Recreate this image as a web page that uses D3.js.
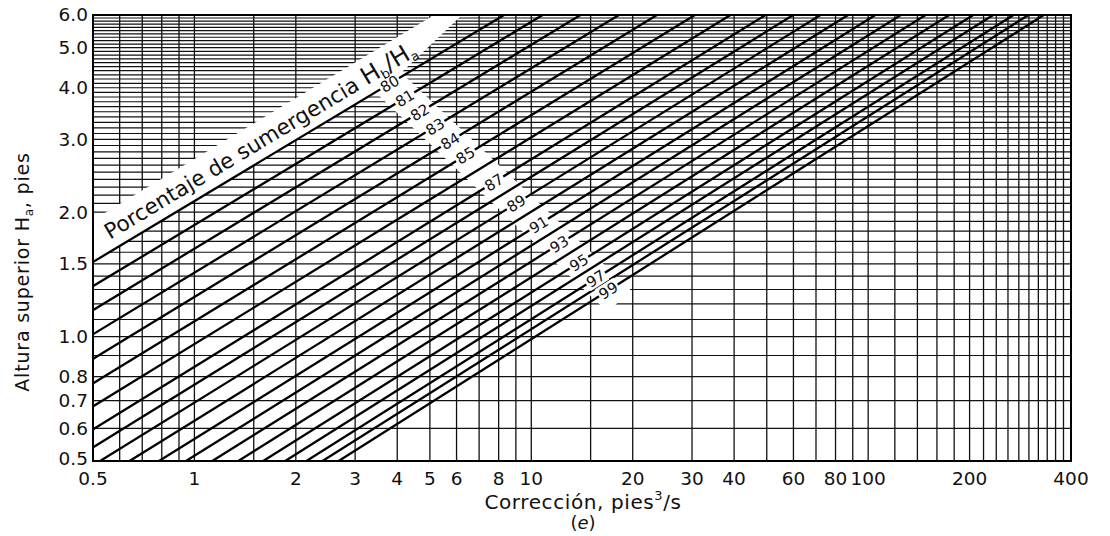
<!DOCTYPE html>
<html>
<head>
<meta charset="UTF-8">
<title>Corrección por sumergencia</title>
<style>
  body { margin: 0; background: #fff; }
  text { font-family: "DejaVu Sans", sans-serif; fill: #111; }
</style>
</head>
<body>
<div id="chart"></div>
<script src="https://cdn.jsdelivr.net/npm/d3@7"></script>
<script>
// submergence lines, each read where it meets Ha = 0.5 (bottom) and Ha = 6.0 (top)
const submergence = [80, 81, 82, 83, 84, 85, 86, 87, 88, 89, 90, 91, 92, 93, 94, 95, 96, 97, 98, 99];
const qAtBottom = [0.052, 0.069, 0.091, 0.120, 0.159, 0.210, 0.272, 0.352, 0.430, 0.525,
  0.642, 0.785, 0.944, 1.13, 1.35, 1.60, 1.86, 2.15, 2.40, 2.68];
const qAtTop = [8.3, 10.8, 14.0, 18.2, 23.6, 30.6, 39.0, 49.6, 59.9, 72.2,
  87.2, 105, 125, 148, 174, 205, 235, 270, 299, 332];
const labelled = [80, 81, 82, 83, 84, 85, 87, 89, 91, 93, 95, 97, 99];
const haEnds = [0.5, 6.0];

// grid + tick labels
const xGrid = [0.5, 0.6, 0.7, 0.8, 0.9, 1, 1.5, 2, 3, 4, 5, 6, 7, 8, 9, 10, 15, 20, 30,
  40, 50, 60, 70, 80, 90, 100, 120, 140, 160, 180, 200, 220, 240, 260, 280, 300,
  320, 340, 360, 380, 400];
const yGrid = d3.range(5, 61).map(d => d / 10);
const xTicks = [0.5, 1, 2, 3, 4, 5, 6, 8, 10, 20, 30, 40, 60, 80, 100, 200, 400];
const yTicks = [0.5, 0.6, 0.7, 0.8, 1.0, 1.5, 2.0, 3.0, 4.0, 5.0, 6.0];

const W = 1110, H = 536;
const m = { left: 93, right: 39, top: 15, bottom: 75 };

const svg = d3.select("#chart").append("svg")
  .attr("width", W).attr("height", H);

const x = d3.scaleLog().domain([0.5, 400]).range([m.left, W - m.right]);
const y = d3.scaleLog().domain([0.5, 6]).range([H - m.bottom, m.top]);

svg.append("clipPath").attr("id", "plot")
  .append("rect")
  .attr("x", x(0.5)).attr("y", y(6))
  .attr("width", x(400) - x(0.5)).attr("height", y(0.5) - y(6));

const g = svg.append("g").attr("clip-path", "url(#plot)");

// grid
g.selectAll(".vg").data(xGrid).enter().append("line")
  .attr("x1", d => x(d)).attr("x2", d => x(d))
  .attr("y1", y(0.5)).attr("y2", y(6))
  .attr("stroke", "#111").attr("stroke-width", 1.3);
g.selectAll(".hg").data(yGrid).enter().append("line")
  .attr("y1", d => y(d)).attr("y2", d => y(d))
  .attr("x1", x(0.5)).attr("x2", x(400))
  .attr("stroke", "#111").attr("stroke-width", 1.2);

// pixel geometry of every line
const lines = submergence.map((s, i) => ({
  s, i,
  p0: [x(qAtBottom[i]), y(haEnds[0])],
  p1: [x(qAtTop[i]), y(haEnds[1])]
}));
const yAt = (L, px) => L.p0[1] + (L.p1[1] - L.p0[1]) * (px - L.p0[0]) / (L.p1[0] - L.p0[0]);
const angleOf = L => Math.atan2(L.p1[1] - L.p0[1], L.p1[0] - L.p0[0]) * 180 / Math.PI;

// label guide: labels sit where each line meets this diagonal
const gA = [392, 86], gB = [612, 294];
function meet(L) {
  const [x1, y1] = L.p0, [x2, y2] = L.p1, [x3, y3] = gA, [x4, y4] = gB;
  const den = (x1 - x2) * (y3 - y4) - (y1 - y2) * (x3 - x4);
  const t = ((x1 - x3) * (y3 - y4) - (y1 - y3) * (x3 - x4)) / den;
  return [x1 + t * (x2 - x1), y1 + t * (y2 - y1)];
}

// white band for the title, above line 80
const L80 = lines[0];
const p80 = meet(L80);
const leftY = yAt(L80, x(0.5));
const slope80 = (L80.p0[1] - L80.p1[1]) / (L80.p1[0] - L80.p0[0]);
const bandW = 42;
const band = [
  [x(0.5), leftY],
  p80,
  [462, y(6)],
  [L80.p1[0] - bandW / slope80, y(6)],
  [x(0.5), leftY - bandW]
];
g.append("polygon").attr("points", band.map(p => p.join(",")).join(" "))
  .attr("fill", "#fff");

// white strip behind the labels
const dx = gB[0] - gA[0], dy = gB[1] - gA[1], len = Math.hypot(dx, dy);
const nx = -dy / len * 16, ny = dx / len * 16;
const ex = dx / len * 10, ey = dy / len * 10;
const strip = [
  [gA[0] - ex + nx, gA[1] - ey + ny], [gB[0] + ex + nx, gB[1] + ey + ny],
  [gB[0] + ex - nx, gB[1] + ey - ny], [gA[0] - ex - nx, gA[1] - ey - ny]
];
g.append("polygon").attr("points", strip.map(p => p.join(",")).join(" "))
  .attr("fill", "#fff");

// curves
const lineGen = d3.line().x(d => x(d[0])).y(d => y(d[1]));
g.selectAll(".curve").data(lines).enter().append("path")
  .attr("d", L => lineGen([[qAtBottom[L.i], haEnds[0]], [qAtTop[L.i], haEnds[1]]]))
  .attr("fill", "none").attr("stroke", "#000").attr("stroke-width", 2.3);

// curve labels
lines.filter(L => labelled.includes(L.s)).forEach(L => {
  const [px, py] = meet(L);
  const lg = g.append("g").attr("transform", `translate(${px},${py}) rotate(${angleOf(L)})`);
  lg.append("rect").attr("x", -11).attr("y", -8).attr("width", 22).attr("height", 16)
    .attr("fill", "#fff");
  lg.append("text").attr("text-anchor", "middle").attr("dy", "0.36em")
    .attr("font-size", 15).text(L.s);
});

// band title
{
  const sx = 110, sy = yAt(L80, 110) - 12;
  const t = g.append("text")
    .attr("transform", `translate(${sx},${sy}) rotate(${angleOf(L80)})`)
    .attr("font-size", 21.5);
  t.append("tspan").text("Porcentaje de sumergencia ");
  t.append("tspan").attr("font-size", 24).text("H");
  t.append("tspan").attr("font-size", 13).attr("dy", 4).text("b");
  t.append("tspan").attr("font-size", 24).attr("dy", -4).text("/H");
  t.append("tspan").attr("font-size", 13).attr("dy", 4).text("a");
}

// frame
svg.append("rect")
  .attr("x", x(0.5)).attr("y", y(6))
  .attr("width", x(400) - x(0.5)).attr("height", y(0.5) - y(6))
  .attr("fill", "none").attr("stroke", "#000").attr("stroke-width", 2);

// tick labels
svg.selectAll(".xt").data(xTicks).enter().append("text")
  .attr("x", d => x(d)).attr("y", y(0.5) + 24)
  .attr("text-anchor", "middle").attr("font-size", 18.5)
  .text(d => d);
svg.selectAll(".yt").data(yTicks).enter().append("text")
  .attr("x", x(0.5) - 5).attr("y", d => y(d) - (d === 0.5 ? 2 : 0))
  .attr("dy", "0.35em").attr("text-anchor", "end").attr("font-size", 18.5)
  .text(d => d.toFixed(1));

// axis titles
const xt = svg.append("text").attr("x", 583).attr("y", 509)
  .attr("text-anchor", "middle").attr("font-size", 20).attr("letter-spacing", 0.6);
xt.append("tspan").text("Corrección, pies");
xt.append("tspan").attr("font-size", 13).attr("dy", -9).text("3");
xt.append("tspan").attr("dy", 9).text("/s");
svg.append("text").attr("x", 583).attr("y", 529)
  .attr("text-anchor", "middle").attr("font-size", 18)
  .html('(<tspan font-style="italic">e</tspan>)');

const yt = svg.append("text")
  .attr("transform", "translate(29,272) rotate(-90)")
  .attr("text-anchor", "middle").attr("font-size", 19).attr("letter-spacing", 0.8);
yt.append("tspan").text("Altura superior H");
yt.append("tspan").attr("font-size", 12).attr("dy", 4).text("a");
yt.append("tspan").attr("dy", -4).text(", pies");
</script>
</body>
</html>
